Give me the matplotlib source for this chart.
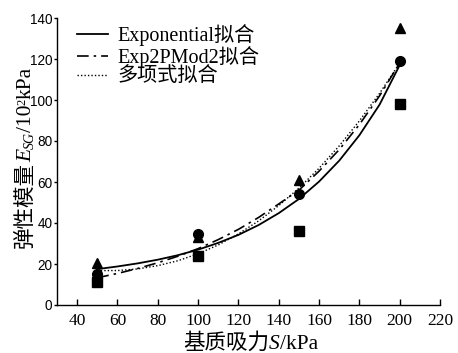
import matplotlib
matplotlib.use("Agg")
import matplotlib.pyplot as plt
from matplotlib.transforms import IdentityTransform

# measured points
suction = [50, 100, 150, 200]
circles = [15, 34.5, 54, 119]
triangles = [20.5, 33, 61, 135]
squares = [11, 24, 36, 98]

# curves
curve_x = [50, 60, 70, 80, 90, 100, 110, 120, 130, 140, 150, 160, 170, 180, 190, 200]
exp_fit = [17.5, 18.8, 20.3, 22.1, 24.3, 27.0, 30.3, 34.2, 39.0, 44.8, 51.7, 60.2, 70.4, 82.8, 97.7, 117.0]
exp2p_fit = [13.3, 15.4, 17.8, 20.6, 23.8, 27.5, 31.9, 36.9, 42.7, 49.3, 56.0, 65.3, 75.8, 88.0, 102.0, 118.0]
poly_fit = [16.8, 16.8, 17.6, 19.2, 21.6, 25.0, 29.3, 34.7, 41.0, 48.5, 57.0, 66.7, 77.6, 89.8, 103.2, 118.0]

labels = ["Exponential拟合", "Exp2PMod2拟合", "多项式拟合"]
xticks = [40, 60, 80, 100, 120, 140, 160, 180, 200, 220]
yticks = [0, 20, 40, 60, 80, 100, 120, 140]

serif_cjk = ["Liberation Serif", "Noto Sans CJK SC"]
CJK = dict(family=["Noto Sans CJK SC"], fontsize=15.5)
RM = dict(family=["Liberation Serif"], fontsize=15.5)
IT = dict(family=["Liberation Serif"], fontsize=15.5, style="italic")
SUBIT = dict(family=["Liberation Serif"], fontsize=10, style="italic")
SUP = dict(family=["Liberation Serif"], fontsize=9)

fig = plt.figure(figsize=(4.58, 3.53), dpi=100)
ax = fig.add_axes([57/458, 1-305/353, 383/458, 287/353])

ax.plot(curve_x, exp_fit, color="black", lw=1.3, ls="-", label=labels[0])
ax.plot(curve_x, exp2p_fit, color="black", lw=1.2, ls=(0, (7, 3, 1.5, 3)), label=labels[1])
ax.plot(curve_x, poly_fit, color="black", lw=1.0, ls=(0, (1, 1.5)), label=labels[2])

ax.plot(suction, circles, "o", color="black", ms=7, ls="none")
ax.plot(suction, triangles, "^", color="black", ms=7.5, ls="none")
ax.plot(suction, squares, "s", color="black", ms=6.5, ls="none")

ax.set_xlim(30, 220)
ax.set_ylim(0, 140)
ax.set_xticks(xticks)
ax.set_yticks(yticks)
for s in ["top", "right"]:
    ax.spines[s].set_visible(False)
for s in ["left", "bottom"]:
    ax.spines[s].set_linewidth(1.0)
ax.tick_params(axis="x", direction="in", length=4, width=1, pad=6)
ax.tick_params(axis="y", direction="out", length=2.5, width=1, pad=0.8)
for t in ax.get_xticklabels():
    t.set_fontfamily("Liberation Serif")
    t.set_fontsize(12.5)
for t in ax.get_yticklabels():
    t.set_fontfamily("Liberation Sans")
    t.set_fontsize(9.8)

leg = ax.legend(loc="upper left", bbox_to_anchor=(0.02, 1.022), frameon=False,
                prop={"family": serif_cjk, "size": 14.5}, handlelength=1.55,
                handletextpad=0.45, labelspacing=0.0, borderpad=0.1)

# axis labels built from pieces (CJK + italic latin)
xlabel_pieces = [("基质吸力", CJK, 0), ("S", IT, 0), ("/kPa", RM, 0)]
ylabel_pieces = [("弹性模量", CJK, 0), ("E", IT, 0), ("SG", SUBIT, -3),
                 ("/10", RM, 0), ("2", SUP, 6), ("kPa", RM, 0)]

fig.canvas.draw()
renderer = fig.canvas.get_renderer()


def chain(pieces, center, base, rotation):
    texts = []
    lengths = []
    for s, props, off in pieces:
        t = fig.text(0, 0, s, transform=IdentityTransform(), ha="left", va="baseline",
                     rotation=rotation, rotation_mode="anchor", **props)
        bb = t.get_window_extent(renderer)
        lengths.append(bb.height if rotation else bb.width)
        texts.append((t, off))
    total = sum(lengths)
    pos = center - total / 2
    for (t, off), L in zip(texts, lengths):
        if rotation:
            t.set_position((base - off, pos))
        else:
            t.set_position((pos, base + off))
        pos += L


chain(xlabel_pieces, center=(188 + 313) / 2, base=4, rotation=0)
chain(ylabel_pieces, center=353 - (73 + 242) / 2, base=31, rotation=90)

fig.savefig("out.png", dpi=100)
